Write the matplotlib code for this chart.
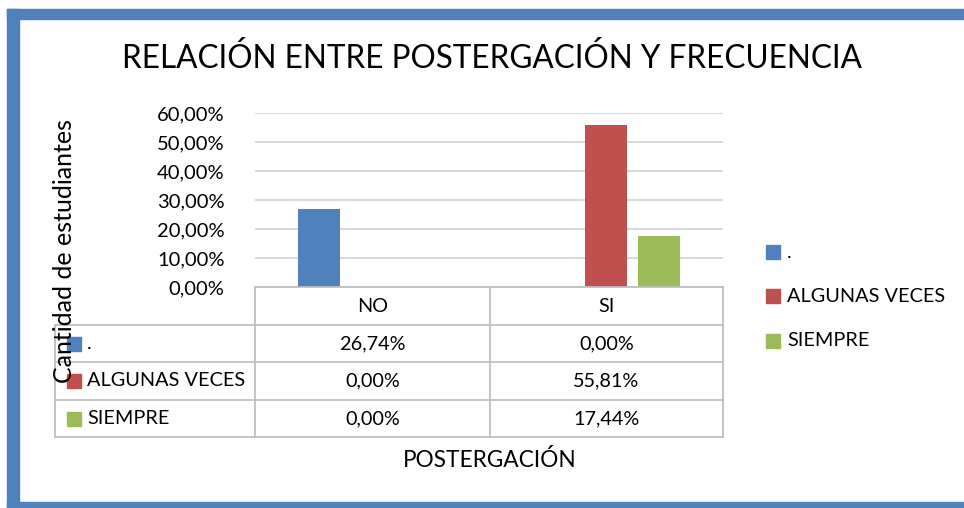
import matplotlib.pyplot as plt
import matplotlib.patches as patches
from matplotlib.lines import Line2D

categories = ['NO', 'SI']
series = ['.', 'ALGUNAS VECES', 'SIEMPRE']
values = [
    [0.2674, 0.0],
    [0.0, 0.5581],
    [0.0, 0.1744],
]
colors = ['#4F81BD', '#C0504D', '#9BBB59']
yticks = [0, 0.1, 0.2, 0.3, 0.4, 0.5, 0.6]

W, H = 964, 508
plt.rcParams['font.family'] = ['Lato', 'DejaVu Sans']

fig = plt.figure(figsize=(W / 100, H / 100), dpi=100)


def fx(x):
    return x / W


def fy(y):
    return 1 - y / H


def pct(v):
    return f'{v * 100:.2f}%'.replace('.', ',')


# blue frame
frame = '#4F81BD'
fig.patches.append(patches.Rectangle((fx(7), fy(508)), fx(12), 508 / H - 0.0 - 9 / H,
                                     transform=fig.transFigure, color=frame, zorder=0))
fig.patches.append(patches.Rectangle((fx(7), fy(19)), 1, 10 / H,
                                     transform=fig.transFigure, color=frame, zorder=0))
fig.patches.append(patches.Rectangle((fx(7), 0), 1, 6 / H,
                                     transform=fig.transFigure, color=frame, zorder=0))

# plot area
x0, x1, ytop, ybot = 255, 723, 113, 287
ax = fig.add_axes([fx(x0), fy(ybot), fx(x1 - x0), (ybot - ytop) / H])
ax.set_xlim(-0.5, 1.5)
ax.set_ylim(0, 0.6)
for s in ax.spines.values():
    s.set_visible(False)
ax.set_xticks([])
ax.set_yticks(yticks)
ax.set_yticklabels([pct(t) for t in yticks], fontsize=14.5, color='#000000')
ax.tick_params(axis='y', length=0, pad=22)
ax.grid(axis='y', color='#D9D9D9', linewidth=1.5)
ax.set_axisbelow(True)

width = 0.18
offsets = [-0.227, 0, 0.227]
for i, name in enumerate(series):
    xs = [j + offsets[i] for j in range(len(categories))]
    ax.bar(xs, values[i], width=width, color=colors[i], zorder=3)

# title
fig.text(fx(492), fy(58), 'RELACIÓN ENTRE POSTERGACIÓN Y FRECUENCIA',
         ha='center', va='center', fontsize=22.7)

# y label
fig.text(fx(65), fy(251), 'Cantidad de estudiantes', rotation=90,
         ha='center', va='center', fontsize=18)

# data table
grid = '#BFBFBF'
tl, cols, rows = 55, [255, 490, 723], [287, 325, 362, 400, 437]


def hline(y, xa, xb):
    fig.add_artist(Line2D([fx(xa), fx(xb)], [fy(y), fy(y)], color=grid, lw=1.3))


def vline(x, ya, yb):
    fig.add_artist(Line2D([fx(x), fx(x)], [fy(ya), fy(yb)], color=grid, lw=1.3))


hline(rows[0], cols[0], cols[-1])
for r in rows[1:]:
    hline(r, tl, cols[-1])
vline(tl, rows[1], rows[-1])
for c in cols:
    vline(c, rows[0], rows[-1])

for j, cat in enumerate(categories):
    cx = (cols[j] + cols[j + 1]) / 2
    fig.text(fx(cx), fy((rows[0] + rows[1]) / 2), cat, ha='center', va='center', fontsize=14.3)
    for i in range(len(series)):
        fig.text(fx(cx), fy((rows[i + 1] + rows[i + 2]) / 2), pct(values[i][j]),
                 ha='center', va='center', fontsize=14.3)

for i, name in enumerate(series):
    cy = (rows[i + 1] + rows[i + 2]) / 2
    fig.patches.append(patches.Rectangle((fx(67), fy(cy + 7)), fx(14), 14 / H,
                                         transform=fig.transFigure, color=colors[i]))
    fig.text(fx(87), fy(cy), name, ha='left', va='center', fontsize=14.3)

fig.text(fx(490), fy(460), 'POSTERGACIÓN', ha='center', va='center', fontsize=16.3)

# legend
for i, name in enumerate(series):
    cy = [252, 296, 341][i]
    fig.patches.append(patches.Rectangle((fx(766), fy(cy + 7)), fx(14), 14 / H,
                                         transform=fig.transFigure, color=colors[i]))
    fig.text(fx(787), fy(cy), name, ha='left', va='center', fontsize=14.3)

fig.savefig('out.png', dpi=100)
